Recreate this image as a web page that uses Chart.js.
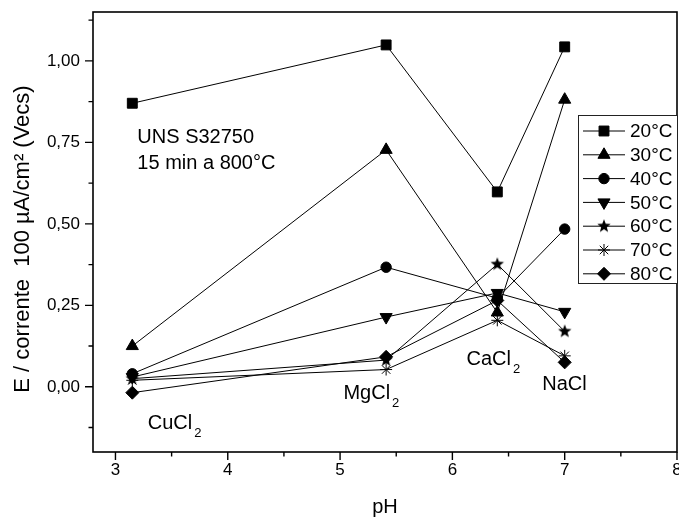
<!DOCTYPE html>
<html><head><meta charset="utf-8">
<script src="https://cdn.jsdelivr.net/npm/chart.js@4"></script>
<style>html,body{margin:0;padding:0;background:#fff}#wrap{width:679px;height:517px;position:relative}</style>
</head><body><div id="wrap"><canvas id="c" width="679" height="517"></canvas></div>
<script>
// ---- data ----
const phValues = [3.15, 5.41, 6.40, 7.00];
const seriesLabels = ['20°C', '30°C', '40°C', '50°C', '60°C', '70°C', '80°C'];
const s20 = [0.870, 1.049, 0.598, 1.043];
const s30 = [0.125, 0.727, 0.228, 0.881];
const s40 = [0.040, 0.367, 0.272, 0.484];
const s50 = [0.030, 0.214, 0.288, 0.230];
const s60 = [0.025, 0.082, 0.376, 0.170];
const s70 = [0.020, 0.053, 0.204, 0.095];
const s80 = [-0.018, 0.092, 0.265, 0.075];
const seriesValues = [s20, s30, s40, s50, s60, s70, s80];
const xTickValues = [3, 4, 5, 6, 7, 8];
const xTickLabels = ['3', '4', '5', '6', '7', '8'];
const xMinorTicks = [3.5, 4.5, 5.5, 6.5, 7.5];
const yTickValues = [0, 0.25, 0.5, 0.75, 1.0];
const yTickLabels = ['0,00', '0,25', '0,50', '0,75', '1,00'];
const yMinorTicks = [-0.125, 0.125, 0.375, 0.625, 0.875, 1.125];
const saltNames = ['CuCl', 'MgCl', 'CaCl', 'NaCl'];
const saltSubs = ['2', '2', '2', ''];
const noteLines = ['UNS S32750', '15 min a 800°C'];
const xTitle = 'pH';
const yTitle = 'E / corrente  100 µA/cm² (Vecs)';

// ---- styling / placement (not data) ----
const FONT = '"Liberation Sans", Arial, sans-serif';
function makeStar(r) {
  const s = Math.ceil(r * 2 + 2);
  const c = document.createElement('canvas');
  c.width = s; c.height = s;
  const g = c.getContext('2d');
  g.fillStyle = '#000';
  g.beginPath();
  for (let i = 0; i < 10; i++) {
    const a = -Math.PI / 2 + i * Math.PI / 5;
    const rr = (i % 2) ? r * 0.42 : r;
    g.lineTo(s / 2 + rr * Math.cos(a), s / 2 + rr * Math.sin(a));
  }
  g.closePath();
  g.fill();
  return c;
}
const starImg = makeStar(7);
const markerStyles = [
  { pointStyle: 'rect', rotation: 0, radius: 7 },
  { pointStyle: 'triangle', rotation: 0, radius: 7 },
  { pointStyle: 'circle', rotation: 0, radius: 5.2 },
  { pointStyle: 'triangle', rotation: 180, radius: 7 },
  { pointStyle: starImg, rotation: 0, radius: 7 },
  { pointStyle: 'star', rotation: 0, radius: 6 },
  { pointStyle: 'rectRot', rotation: 0, radius: 6.5 }
];
const notePlacement = [{ x: 3.195, y: 0.765 }, { x: 3.195, y: 0.684 }];
const saltPlacement = [
  { x: 3.288, y: -0.112 },
  { x: 5.030, y: -0.019 },
  { x: 6.126, y: 0.085 },
  { x: 6.800, y: 0.008 }
];

const datasets = seriesValues.map((vals, i) => ({
  label: seriesLabels[i],
  data: phValues.map((x, j) => ({ x: x, y: vals[j] })),
  borderColor: '#000',
  borderWidth: 1,
  backgroundColor: '#000',
  pointBackgroundColor: '#000',
  pointBorderColor: '#000',
  pointBorderWidth: 1,
  pointStyle: markerStyles[i].pointStyle,
  pointRotation: markerStyles[i].rotation,
  pointRadius: markerStyles[i].radius,
  pointHoverRadius: markerStyles[i].radius,
  tension: 0,
  fill: false,
  clip: false
}));

const decor = {
  id: 'decor',
  afterDraw(chart) {
    const ctx = chart.ctx;
    const xs = chart.scales.x, ys = chart.scales.y;
    const a = chart.chartArea;
    ctx.save();
    // frame
    ctx.strokeStyle = '#000';
    ctx.lineWidth = 1.6;
    ctx.strokeRect(a.left, a.top, a.right - a.left, a.bottom - a.top);
    // ticks
    ctx.lineWidth = 1.4;
    ctx.beginPath();
    xTickValues.forEach(v => { const p = xs.getPixelForValue(v); ctx.moveTo(p, a.bottom); ctx.lineTo(p, a.bottom + 8); });
    xMinorTicks.forEach(v => { const p = xs.getPixelForValue(v); ctx.moveTo(p, a.bottom); ctx.lineTo(p, a.bottom + 4.5); });
    yTickValues.forEach(v => { const p = ys.getPixelForValue(v); ctx.moveTo(a.left, p); ctx.lineTo(a.left - 8, p); });
    yMinorTicks.forEach(v => { const p = ys.getPixelForValue(v); ctx.moveTo(a.left, p); ctx.lineTo(a.left - 4.5, p); });
    ctx.stroke();
    // axis titles
    ctx.fillStyle = '#000';
    ctx.textBaseline = 'middle';
    ctx.textAlign = 'center';
    ctx.font = '20px ' + FONT;
    ctx.fillText(xTitle, (a.left + a.right) / 2, 507);
    ctx.save();
    ctx.translate(22.5, (a.top + a.bottom) / 2 + 7);
    ctx.rotate(-Math.PI / 2);
    ctx.font = '22px ' + FONT;
    ctx.fillText(yTitle, 0, 0);
    ctx.restore();
    // notes
    ctx.textAlign = 'left';
    ctx.font = '20px ' + FONT;
    noteLines.forEach((t, i) => {
      ctx.fillText(t, xs.getPixelForValue(notePlacement[i].x), ys.getPixelForValue(notePlacement[i].y));
    });
    saltNames.forEach((t, i) => {
      const px = xs.getPixelForValue(saltPlacement[i].x);
      const py = ys.getPixelForValue(saltPlacement[i].y);
      ctx.font = '20px ' + FONT;
      ctx.fillText(t, px, py);
      if (saltSubs[i]) {
        const w = ctx.measureText(t).width;
        ctx.font = '13px ' + FONT;
        ctx.fillText(saltSubs[i], px + w + 2, py + 10);
      }
    });
    // legend
    const bx = a.right - 99, by = a.top + 103, bw = 99, bh = 168;
    ctx.fillStyle = '#fff';
    ctx.fillRect(bx, by, bw, bh);
    ctx.strokeStyle = '#222';
    ctx.lineWidth = 1;
    ctx.strokeRect(bx + 0.5, by + 0.5, bw, bh);
    chart.data.datasets.forEach((ds, i) => {
      const cy = by + 16 + i * 23.8;
      ctx.strokeStyle = '#000';
      ctx.lineWidth = 1;
      ctx.beginPath();
      ctx.moveTo(bx + 5, cy); ctx.lineTo(bx + 47, cy);
      ctx.stroke();
      ctx.fillStyle = '#000';
      const opts = { pointStyle: ds.pointStyle, rotation: ds.pointRotation, radius: ds.pointRadius, borderWidth: 1 };
      if (Chart.helpers && Chart.helpers.drawPoint) {
        Chart.helpers.drawPoint(ctx, opts, bx + 26, cy);
      }
      ctx.fillStyle = '#000';
      ctx.font = '19px ' + FONT;
      ctx.textBaseline = 'middle';
      ctx.textAlign = 'left';
      ctx.fillText(ds.label, bx + 52, cy + 1);
    });
    ctx.restore();
  }
};

new Chart(document.getElementById('c'), {
  type: 'line',
  data: { datasets: datasets },
  options: {
    responsive: false,
    animation: false,
    devicePixelRatio: 1,
    layout: { autoPadding: false, padding: { left: 0, right: 2, top: 12, bottom: 0 } },
    plugins: { legend: { display: false }, tooltip: { enabled: false } },
    scales: {
      x: {
        type: 'linear',
        min: 2.8, max: 8,
        grid: { display: false, drawTicks: false },
        border: { display: false },
        afterBuildTicks: s => { s.ticks = xTickValues.map(v => ({ value: v })); },
        afterFit: s => { s.height = 65; s.paddingLeft = 0; s.paddingRight = 0; },
        ticks: {
          padding: 8, color: '#000', maxRotation: 0, autoSkip: false,
          font: { family: FONT, size: 17 },
          callback: (v, i) => xTickLabels[i]
        },
        title: { display: false }
      },
      y: {
        type: 'linear',
        min: -0.2, max: 1.15,
        grid: { display: false, drawTicks: false },
        border: { display: false },
        afterBuildTicks: s => { s.ticks = yTickValues.map(v => ({ value: v })); },
        afterFit: s => { s.width = 93; s.paddingTop = 0; s.paddingBottom = 0; },
        ticks: {
          padding: 13, color: '#000', autoSkip: false,
          font: { family: FONT, size: 17 },
          callback: (v, i) => yTickLabels[i]
        },
        title: { display: false }
      }
    }
  },
  plugins: [decor]
});
</script>
</body></html>
